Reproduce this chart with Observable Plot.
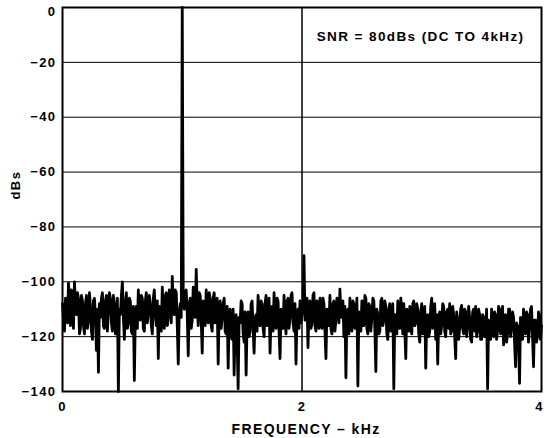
<!DOCTYPE html>
<html><head><meta charset="utf-8">
<script src="https://cdn.jsdelivr.net/npm/d3@7"></script>
<script src="https://cdn.jsdelivr.net/npm/@observablehq/plot@0.6"></script>
<style>body{margin:0;background:#fff} svg{display:block} #chart svg text{letter-spacing:1.4px}</style>
</head><body><div id="chart"></div>
<script>
// FFT magnitude (dBs) per frequency bin, evenly spaced from 0 to 4 kHz
const dBs = [
 -108,-114,-118,-106,-110,-115,-100.5,-108,-116,-103,-104,-117,-100,-109,-112,-104,-106,-119,-117,-105,-107,-116,-119,-108,-105,-117,-114,-104,-109,-118,-121,-107,-106,-112,-125,-110,-133,-108,-113,-106,
 -104,-116,-117,-107,-105,-118,-110,-104,-106,-115,-118,-105,-108,-119,-113,-106,-140,-110,-112,-105,-100,-113,-121,-108,-104,-117,-115,-106,-107,-118,-119,-109,-136,-112,-109,-117,-103,-111,-114,-105,
 -106,-117,-118,-107,-104,-115,-111,-105,-108,-116,-119,-106,-103,-112,-116,-107,-128,-109,-110,-118,-102,-111,-117,-105,-104,-116,-113,-103,-106,-115,-98,-110,-112,-103,-104,-116,-130,-111,-108,-113,
 0,-106,
 -110,-104,-103,-112,-127,-108,-106,-117,-114,-102,-104,-113,-95.5,-108,-116,-104,-105,-114,-126,-107,-108,-116,-103,-111,-115,-104,-106,-116,-118,-106,-104,-115,-112,-106,-130,-110,-107,-117,
 -113,-108,-106,-118,-119,-109,-131.5,-114,-110,-120,-121,-110,-134,-116,-112,-121,-139,-113,-115,-107,-108,-119,-122,-111,-134,-115,-111,-120,-118,-108,-107,-117,-126,-113,-112,-118,-105,-114,-116,-107,
 -108,-117,-120,-108,-105,-116,-114,-106,-126,-112,-109,-118,-104,-113,-117,-106,-107,-118,-128,-110,-111,-117,-105,-114,-119,-107,-106,-117,-113,-105,-104,-115,-118,-108,-130,-112,-110,-117,-107,-115,
 -112,-108,-90.5,-114,-113,-106,-124,-110,-107,-117,-115,-105,-104,-116,-118,-107,-109,-117,-106,-114,-117,-106,-108,-118,-128,-110,-111,-116,-105,-117,-119,-108,-107,-118,-114,-106,-108,-115,-102.7,-112,
 -113,-107,-120,-109,-135,-112,-110,-119,-106,-115,-118,-107,-108,-117,-115,-106,-138,-111,-112,-118,-107,-116,-116,-105,-106,-117,-119,-108,-109,-118,-113,-106,-107,-117,-132.7,-110,-112,-119,-118,-107,
 -106,-116,-114,-107,-109,-119,-121,-110,-108,-118,-116,-108,-139,-112,-113,-119,-107,-116,-117,-106,-110,-119,-108,-117,-128,-110,-112,-118,-109,-117,-119,-108,-107,-116,-115,-108,-110,-119,-122,-111,
 -108,-119,-117,-109,-131.5,-113,-112,-120,-118,-109,-106,-117,-114,-108,-121,-112,-130,-113,-111,-119,-116,-108,-109,-118,-120,-111,-110,-117,-108,-119,-118,-109,-112,-120,-128,-111,-114,-121,-117,-110,
 -108.6,-117,-119,-110,-111,-120,-116,-109,-113,-121,-122,-111,-110,-118,-109,-120,-118,-110,-112,-121,-121,-112,-113,-120,-117,-110,-139,-114,-115,-121,-110,-119,-120,-111,-112,-121,-118,-109,-110,-119,
 -116,-109,-123,-113,-112,-122,-119,-110,-110,-120,-117,-111,-113,-122,-131,-115,-116,-122,-137,-113,-114,-121,-110,-118,-119,-111,-112,-122,-117,-110,-109,-120,-131,-114,-114,-122,-120,-111,-112,-121,
 -116
];
const fMaxKHz = 4;
const xTicks = [0, 2, 4];
const yTicks = [0, -20, -40, -60, -80, -100, -120, -140];
const snrLabel = "SNR = 80dBs (DC TO 4kHz)";
const xLabel = "FREQUENCY – kHz";
const yLabel = "dBs";

const binStep = fMaxKHz / (dBs.length - 1);
const spectrum = dBs.map((v, i) => ({f: i * binStep, db: v}));

const plot = Plot.plot({
  width: 544, height: 438,
  marginLeft: 62, marginRight: 3, marginTop: 7, marginBottom: 47,
  style: {fontFamily: "'Liberation Sans', Arial, sans-serif", fontWeight: "bold", fontSize: "13px", color: "#000", background: "#fff"},
  x: {domain: [0, fMaxKHz]},
  y: {domain: [-140, 0]},
  marks: [
    Plot.gridY(yTicks.slice(1, -1), {stroke: "#000", strokeOpacity: 1, strokeWidth: 1}),
    Plot.gridX([2], {stroke: "#000", strokeOpacity: 1, strokeWidth: 1.5}),
    Plot.line(spectrum, {x: "f", y: "db", stroke: "#000", strokeWidth: 2.8}),
    Plot.frame({stroke: "#000", strokeWidth: 2}),
    Plot.axisY(yTicks.slice(1), {tickSize: 0, tickPadding: 6, label: null, fill: "#000"}),
    Plot.axisY([0], {tickSize: 0, tickPadding: 6, dy: 4, label: null, fill: "#000"}),
    Plot.axisX(xTicks.slice(0, -1), {tickSize: 0, tickPadding: 10, tickFormat: d3.format("d"), label: null, fill: "#000"}),
    Plot.axisX(xTicks.slice(-1), {tickSize: 0, tickPadding: 10, dx: -2, tickFormat: d3.format("d"), label: null, fill: "#000"}),
    Plot.text([xLabel], {text: d => d, frameAnchor: "bottom", lineAnchor: "middle", dy: 38, dx: 4, fontSize: 14, fill: "#000"}),
    Plot.text([yLabel], {text: d => d, frameAnchor: "left", dx: -47, rotate: -90, fill: "#000"}),
    Plot.text([snrLabel], {text: d => d, frameAnchor: "top-right", textAnchor: "end", lineAnchor: "middle", dx: -17, dy: 29, fontSize: 13.5, fill: "#000"})
  ]
});
document.getElementById("chart").appendChild(plot);
</script>
</body></html>
